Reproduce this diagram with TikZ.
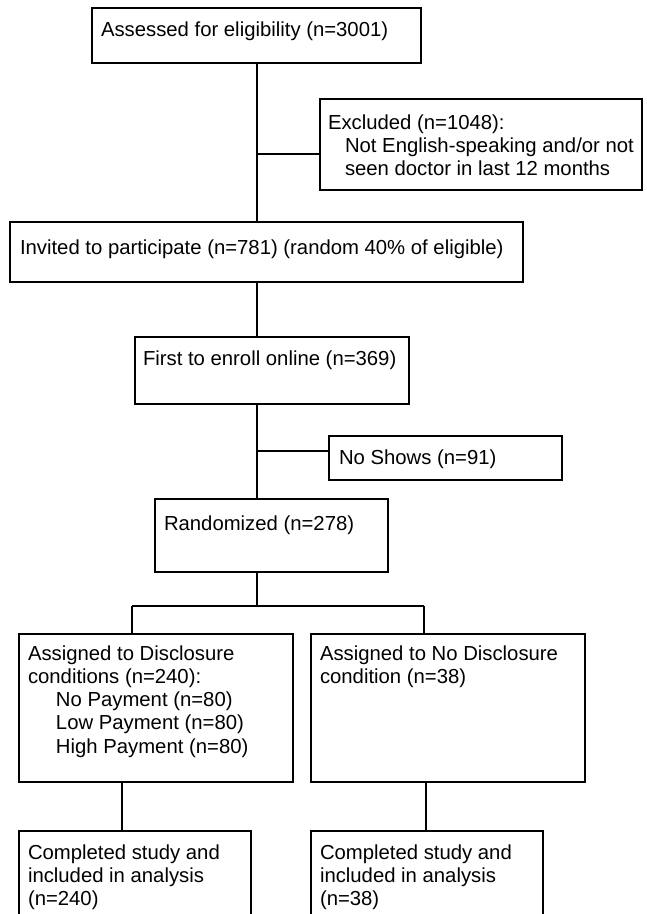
\documentclass[tikz,border=0pt]{standalone}
\usepackage{fontspec}
\setmainfont{Liberation Sans}
\begin{document}
\begin{tikzpicture}[x=1pt,y=-1pt,
  box/.style={draw, line width=2pt, rectangle, inner sep=0pt, outer sep=0pt, anchor=north west},
  txt/.style={anchor=north west, inner sep=0pt, outer sep=0pt, align=left, font=\fontsize{20.3}{23.3}\selectfont},
  conn/.style={line width=2pt}]
\useasboundingbox (0,0) rectangle (646,914);
\clip (0,0) rectangle (646,914);
% boxes
\node[box, minimum width=329pt, minimum height=55pt] (b1) at (92,8) {};
\node[box, minimum width=322pt, minimum height=91pt] (excl) at (320,99) {};
\node[box, minimum width=513pt, minimum height=60pt] (inv) at (10,222) {};
\node[box, minimum width=274pt, minimum height=67pt] (first) at (135,337) {};
\node[box, minimum width=233pt, minimum height=44pt] (noshow) at (329,436) {};
\node[box, minimum width=233pt, minimum height=73pt] (rand) at (155,499) {};
\node[box, minimum width=274pt, minimum height=148pt] (asg1) at (19,634) {};
\node[box, minimum width=274pt, minimum height=148pt] (asg2) at (311,634) {};
\node[box, minimum width=232pt, minimum height=130pt] (comp1) at (19,831) {};
\node[box, minimum width=232pt, minimum height=130pt] (comp2) at (311,831) {};
% texts
\node[txt] (t1) at (101,21) {\rule{0pt}{15pt}Assessed for eligibility (n=3001)};
\node[txt] (t2) at (328,114) {\rule{0pt}{15pt}Excluded (n=1048):\\\hspace*{17pt}Not English-speaking and/or not\\\hspace*{17pt}seen doctor in last 12 months};
\node[txt] (t3) at (20,239) {\rule{0pt}{15pt}Invited to participate (n=781) (random 40\% of eligible)};
\node[txt] (t4) at (143,350) {\rule{0pt}{15pt}First to enroll online (n=369)};
\node[txt] (t5) at (339,449) {\rule{0pt}{15pt}No Shows (n=91)};
\node[txt] (t6) at (164,515) {\rule{0pt}{15pt}Randomized (n=278)};
\node[txt] (t7) at (28,645) {\rule{0pt}{15pt}Assigned to Disclosure\\conditions (n=240):\\\hspace*{28pt}No Payment (n=80)\\\hspace*{28pt}Low Payment (n=80)\\\hspace*{28pt}High Payment (n=80)};
\node[txt] (t8) at (320,645) {\rule{0pt}{15pt}Assigned to No Disclosure\\condition (n=38)};
\node[txt] (t9) at (28,844) {\rule{0pt}{15pt}Completed study and\\included in analysis\\(n=240)};
\node[txt] (t10) at (320,844) {\rule{0pt}{15pt}Completed study and\\included in analysis\\(n=38)};
% connector points
\coordinate (ej) at (320,154);
\coordinate (nj) at (329,451);
\coordinate (split) at (257,606);
\coordinate (sl) at (132,606);
\coordinate (sr) at (424,606);
\coordinate (dl) at (122,0);
\coordinate (dr) at (426,0);
% connectors
\draw[conn] (b1.south -| split) -- (inv.north -| split);
\draw[conn] (split |- ej) -- (ej);
\draw[conn] (inv.south -| split) -- (first.north -| split);
\draw[conn] (first.south -| split) -- (rand.north -| split);
\draw[conn] (split |- nj) -- (nj);
\draw[conn] (rand.south -| split) -- (split);
\draw[conn] (sl) -- (sr);
\draw[conn] (sl) -- (asg1.north -| sl);
\draw[conn] (sr) -- (asg2.north -| sr);
\draw[conn] (asg1.south -| dl) -- (comp1.north -| dl);
\draw[conn] (asg2.south -| dr) -- (comp2.north -| dr);
\end{tikzpicture}
\end{document}
